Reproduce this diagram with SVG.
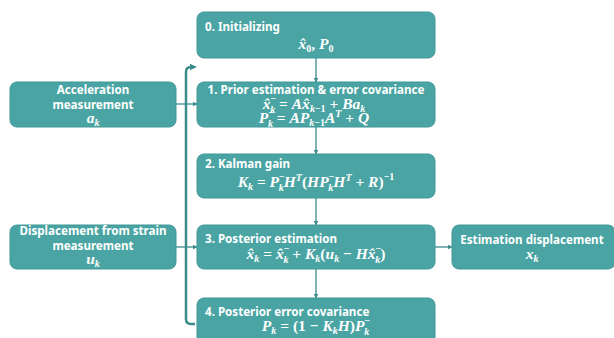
<svg xmlns="http://www.w3.org/2000/svg" width="614" height="338" viewBox="0 0 614 338">
<style>
.box{fill:#49a4a3;stroke:#3f9897;stroke-width:1}
.t{font-family:"Noto Sans","Liberation Sans",sans-serif;font-weight:bold;font-size:11.6px;fill:#fff}
.m{font-family:"Liberation Serif","DejaVu Serif",serif;font-weight:bold;font-style:italic;font-size:15.5px;fill:#fff}
.u{font-style:normal}
.s{font-size:10px}
.ln{fill:none;stroke:#3b8c8b;stroke-width:1.3}
.br{fill:none;stroke:#3b8c8b;stroke-width:2.5}
</style>
<defs>
<marker id="ah" viewBox="0 0 10 10" refX="9" refY="5" markerWidth="5" markerHeight="5" orient="auto" markerUnits="userSpaceOnUse">
<path d="M0,0 L10,5 L0,10 z" fill="#3b8c8b"/>
</marker>
<marker id="ah2" viewBox="0 0 10 10" refX="9" refY="5" markerWidth="7" markerHeight="7" orient="auto" markerUnits="userSpaceOnUse">
<path d="M0,0 L10,5 L0,10 z" fill="#3b8c8b"/>
</marker>
</defs>
<rect width="614" height="338" fill="#fff"/>
<g id="connectors">
<path class="br" d="M194,67 L191,67 Q186,67 186,72 L186,319 Q186,324 191,324 L195,324"/>
<path class="ln" d="M190,67 L196,67" stroke-width="2" marker-end="url(#ah2)"/>
<path class="ln" d="M316,57 L316,82" marker-end="url(#ah)"/>
<path class="ln" d="M316,127 L316,154" marker-end="url(#ah)"/>
<path class="ln" d="M316,198 L316,225" marker-end="url(#ah)"/>
<path class="ln" d="M316,269 L316,298" marker-end="url(#ah)"/>
<path class="ln" d="M176,104 L197,104" marker-end="url(#ah)"/>
<path class="ln" d="M176,247 L197,247" marker-end="url(#ah)"/>
<path class="ln" d="M435,247 L452,247" marker-end="url(#ah)"/>
</g>
<g id="n0">
<rect class="box" x="197" y="12" width="238" height="46" rx="7"/>
<text class="t" x="205" y="31">0. Initializing</text>
<text class="m" x="316" y="49" text-anchor="middle">x̂<tspan class="s u" dy="3">0</tspan><tspan class="u" dy="-3">, </tspan>P<tspan class="s u" dy="3">0</tspan></text>
</g>
<g id="n1">
<rect class="box" x="197" y="82" width="238" height="45" rx="7"/>
<text class="t" x="316" y="94" text-anchor="middle">1. Prior estimation &amp; error covariance</text>
<text class="m" x="314" y="109" text-anchor="middle">x̂<tspan class="s u" dy="-7">−</tspan><tspan class="s" dx="-6" dy="10.5">k</tspan><tspan class="u" dy="-3.5"> = </tspan>Ax̂<tspan class="s" dy="3">k<tspan class="u">−1</tspan></tspan><tspan class="u" dy="-3"> + </tspan>Ba<tspan class="s" dy="3">k</tspan></text>
<text class="m" x="314" y="123" text-anchor="middle">P<tspan class="s u" dy="-7">−</tspan><tspan class="s" dx="-6" dy="10.5">k</tspan><tspan class="u" dy="-3.5"> = </tspan>AP<tspan class="s" dy="3">k<tspan class="u">−1</tspan></tspan><tspan dy="-3">A</tspan><tspan class="s" dy="-6">T</tspan><tspan class="u" dy="6"> + </tspan>Q</text>
</g>
<g id="n2">
<rect class="box" x="197" y="154" width="238" height="44" rx="7"/>
<text class="t" x="205" y="168">2. Kalman gain</text>
<text class="m" x="316" y="187" text-anchor="middle">K<tspan class="s" dy="3">k</tspan><tspan class="u" dy="-3"> = </tspan>P<tspan class="s u" dy="-7">−</tspan><tspan class="s" dx="-6" dy="10.5">k</tspan><tspan dy="-3.5">H</tspan><tspan class="s" dy="-6">T</tspan><tspan class="u" dy="6">(</tspan>HP<tspan class="s u" dy="-7">−</tspan><tspan class="s" dx="-6" dy="10.5">k</tspan><tspan dy="-3.5">H</tspan><tspan class="s" dy="-6">T</tspan><tspan class="u" dy="6"> + </tspan>R<tspan class="u">)</tspan><tspan class="s u" dy="-7">−1</tspan></text>
</g>
<g id="n3">
<rect class="box" x="197" y="225" width="238" height="44" rx="7"/>
<text class="t" x="205" y="243">3. Posterior estimation</text>
<text class="m" x="316" y="259" text-anchor="middle">x̂<tspan class="s" dy="3">k</tspan><tspan class="u" dy="-3"> = </tspan>x̂<tspan class="s u" dy="-7">−</tspan><tspan class="s" dx="-6" dy="10.5">k</tspan><tspan class="u" dy="-3.5"> + </tspan>K<tspan class="s" dy="3">k</tspan><tspan class="u" dy="-3">(</tspan>u<tspan class="s" dy="3">k</tspan><tspan class="u" dy="-3"> − </tspan>Hx̂<tspan class="s u" dy="-7">−</tspan><tspan class="s" dx="-6" dy="10.5">k</tspan><tspan class="u" dy="-3.5">)</tspan></text>
</g>
<g id="n4">
<rect class="box" x="197" y="298" width="238" height="46" rx="7"/>
<text class="t" x="205" y="316">4. Posterior error covariance</text>
<text class="m" x="316" y="331" text-anchor="middle">P<tspan class="s" dy="3">k</tspan><tspan class="u" dy="-3"> = (1 − </tspan>K<tspan class="s" dy="3">k</tspan><tspan dy="-3">H</tspan><tspan class="u">)</tspan>P<tspan class="s u" dy="-7">−</tspan><tspan class="s" dx="-6" dy="10.5">k</tspan></text>
</g>
<g id="acc">
<rect class="box" x="10" y="82" width="166" height="45" rx="7"/>
<text class="t" x="93" y="94" text-anchor="middle">Acceleration</text>
<text class="t" x="93" y="109" text-anchor="middle">measurement</text>
<text class="m" x="93" y="123" text-anchor="middle">a<tspan class="s" dy="3">k</tspan></text>
</g>
<g id="disp">
<rect class="box" x="10" y="225" width="166" height="44" rx="7"/>
<text class="t" x="93" y="235" text-anchor="middle">Displacement from strain</text>
<text class="t" x="93" y="250" text-anchor="middle">measurement</text>
<text class="m" x="93" y="264" text-anchor="middle">u<tspan class="s" dy="3">k</tspan></text>
</g>
<g id="est">
<rect class="box" x="452" y="225" width="163" height="44" rx="7"/>
<text class="t" x="532" y="244" text-anchor="middle">Estimation displacement</text>
<text class="m" x="532" y="259" text-anchor="middle">x<tspan class="s" dy="3">k</tspan></text>
</g>
</svg>
